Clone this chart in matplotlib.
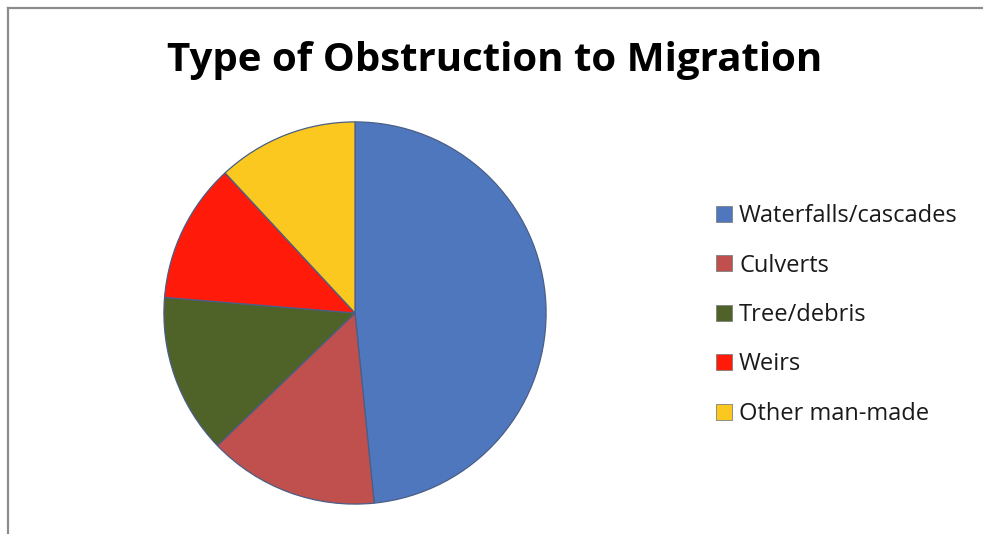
import matplotlib
matplotlib.use("Agg")
import matplotlib.pyplot as plt
from matplotlib.patches import Patch
from matplotlib.lines import Line2D

categories = ["Waterfalls/cascades", "Culverts", "Tree/debris", "Weirs", "Other man-made"]
values = [48.4, 14.4, 13.5, 11.8, 11.9]
colors = ["#4F77BE", "#C0504D", "#4F6228", "#FF1A0A", "#FAC81E"]
title = "Type of Obstruction to Migration"

W, H = 983, 534
fig = plt.figure(figsize=(W / 100, H / 100), dpi=100)
fig.patch.set_facecolor("white")

# frame (top and left visible, running off right/bottom)
fig.add_artist(Line2D([8 / W, 1.0], [1 - 8 / H, 1 - 8 / H], transform=fig.transFigure,
                      color="#8C8C8C", lw=1.6))
fig.add_artist(Line2D([8 / W, 8 / W], [0.0, 1 - 8 / H], transform=fig.transFigure,
                      color="#8C8C8C", lw=1.6))

cx, cy, r = 355, 313, 193
ax = fig.add_axes([(cx - r) / W, (H - cy - r) / H, 2 * r / W, 2 * r / H])
wedges, _ = ax.pie(values, colors=colors, startangle=90, counterclock=False,
                   radius=1.0, wedgeprops=dict(edgecolor="#4A5E86", linewidth=0.9))
ax.set_xlim(-1.01, 1.01)
ax.set_ylim(-1.01, 1.01)
ax.set_aspect("equal")
ax.axis("off")

fig.text(495 / W, 1 - 61 / H, title, ha="center", va="center",
         fontsize=29, fontweight="bold", family="Open Sans", color="black")

handles = [Patch(facecolor=c, edgecolor="#7F7F7F", linewidth=0.6) for c in colors]
leg = fig.legend(handles, categories, loc="upper left",
                 bbox_to_anchor=(716 / W, 1 - 204 / H), frameon=False,
                 handlelength=0.68, handleheight=0.68, handletextpad=0.3,
                 labelspacing=1.08, borderaxespad=0, borderpad=0,
                 prop=dict(family="Open Sans", size=17))
for t in leg.get_texts():
    t.set_color("#1A1A1A")

fig.savefig("out.png", dpi=100)
